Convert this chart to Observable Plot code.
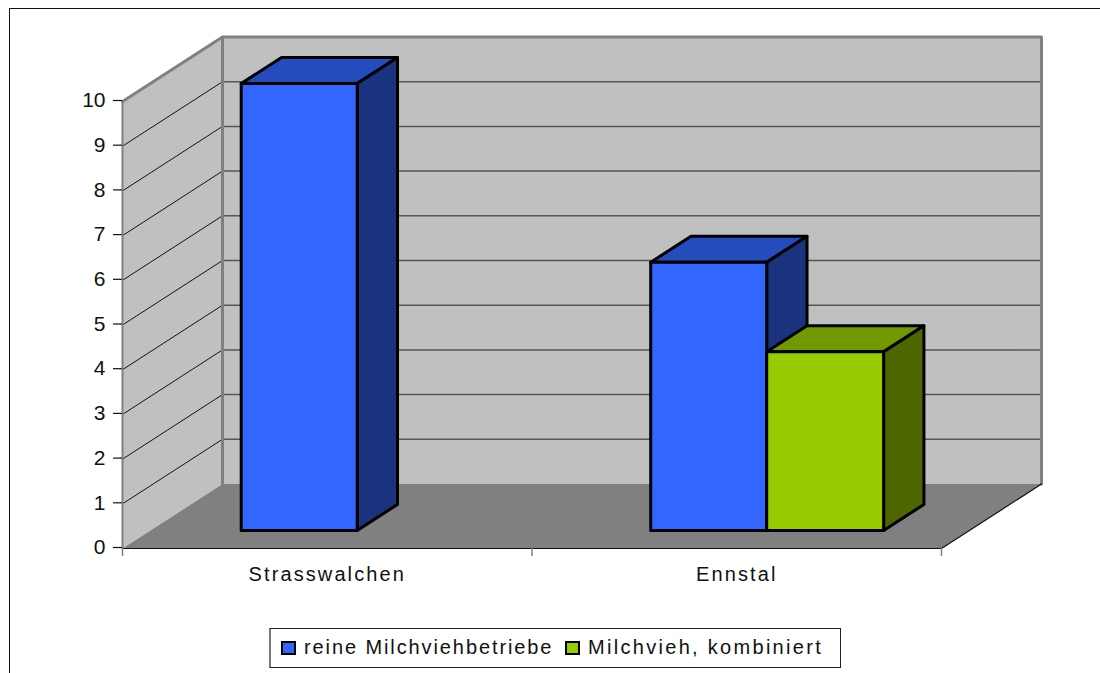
<!DOCTYPE html>
<html lang="de">
<head>
<meta charset="utf-8">
<title>Milchviehbetriebe</title>
<script src="https://cdn.jsdelivr.net/npm/d3@7"></script>
<script src="https://cdn.jsdelivr.net/npm/@observablehq/plot@0.6"></script>
<style>
  html, body { margin: 0; padding: 0; background: #fff; overflow: hidden; }
  body { width: 1100px; height: 673px; position: relative; font-family: "Liberation Sans", Arial, sans-serif; }
  #frame { position: absolute; left: 9px; top: 7.5px; right: -5px; bottom: -5px; border-top: 1.5px solid #111; border-left: 1.5px solid #111; }
  #chart { position: relative; height: 620px; }
  #chart svg { display: block; }
  #chart g[aria-label="text"] text { letter-spacing: 2.1px; }
  #legend { position: relative; box-sizing: border-box; margin: 8px 0 0 269px; width: 572px; height: 40px;
            border: 1px solid #222; border-left: 2px solid #777;
            font-size: 20px; color: #111; white-space: nowrap; }
  .swatch { box-sizing: border-box; width: 15px; height: 14px; border: 2.5px solid #000; flex: none; }
  .entry { display: flex; align-items: center; gap: 8px; position: absolute; top: 7px; }
</style>
</head>
<body>
<div id="frame"></div>
<div id="chart"></div>
<div id="legend"></div>
<script>
// Betriebe je Region und Betriebstyp
const regions = ["Strasswalchen", "Ennstal"];
const seriesNames = ["reine Milchviehbetriebe", "Milchvieh, kombiniert"];
const reine = [10, 6];
const kombiniert = [null, 4];
const yTicks = [0, 1, 2, 3, 4, 5, 6, 7, 8, 9, 10];

// Farben: Vorderseite, Deckel, Seite
const faceColors = ["#3366ff", "#99cc00"];
const topColors = ["#254cbd", "#739900"];
const sideColors = ["#1a337f", "#4d6600"];

// Schräge Projektion: eine volle Tiefeneinheit verschiebt um so viele Dateneinheiten
const depthX = 0.2442;
const depthY = 1.443;
const project = ([x, y, d]) => ({x: x + d * depthX, y: y + d * depthY});

// Lage der Säulen innerhalb der Kategorie und in der Tiefe
const barStart = 0.2215;
const barWidths = [0.2833, 0.2855];
const barDepth = [0.28, 0.683];

// Eine geschlossene Fläche als Linienzug mit Füllung
function face(corners, fill, options = {}) {
  return Plot.line(corners.map(project), {
    x: "x", y: "y", fill, curve: "linear-closed",
    stroke: options.stroke ?? "none",
    strokeWidth: options.strokeWidth ?? 0,
    strokeLinejoin: "round"
  });
}

// Ein offener Linienzug im projizierten Raum
const edge = (corners, stroke, strokeWidth) =>
  Plot.line(corners.map(project), {x: "x", y: "y", stroke, strokeWidth});

// Quader aus Deckel, Seite und Vorderseite
function bar(x0, x1, value, s) {
  const [d0, d1] = barDepth;
  const outline = {stroke: "#000", strokeWidth: 3};
  return [
    face([[x0, value, d0], [x1, value, d0], [x1, value, d1], [x0, value, d1]], topColors[s], outline),
    face([[x1, 0, d0], [x1, 0, d1], [x1, value, d1], [x1, value, d0]], sideColors[s], outline),
    face([[x0, 0, d0], [x1, 0, d0], [x1, value, d0], [x0, value, d0]], faceColors[s], outline)
  ];
}

const xMax = regions.length;
const yMax = yTicks[yTicks.length - 1];

const bars = regions.flatMap((_, i) => {
  const x0 = i + barStart;
  const x1 = x0 + barWidths[0];
  const marks = reine[i] == null ? [] : bar(x0, x1, reine[i], 0);
  return kombiniert[i] == null ? marks : marks.concat(bar(x1, x1 + barWidths[1], kombiniert[i], 1));
});

const plot = Plot.plot({
  width: 1100,
  height: 620,
  marginLeft: 122,
  marginRight: 159,
  marginTop: 101,
  marginBottom: 72,
  style: {fontFamily: '"Liberation Sans", Arial, sans-serif', fontSize: "20px", color: "#111", background: "transparent", overflow: "visible"},
  x: {type: "linear", domain: [0, xMax], axis: null},
  y: {type: "linear", domain: [0, yMax], axis: null},
  marks: [
    // Wände und Boden
    face([[0, 0, 0], [0, yMax, 0], [0, yMax, 1], [0, 0, 1]], "#c0c0c0"),
    face([[0, 0, 1], [xMax, 0, 1], [xMax, yMax, 1], [0, yMax, 1]], "#c0c0c0"),
    face([[0, 0, 0], [xMax, 0, 0], [xMax, 0, 1], [0, 0, 1]], "#808080"),

    // Gitterlinien auf Rück- und Seitenwand
    ...yTicks.slice(1, -1).flatMap((v) => [
      edge([[0, v, 0], [0, v, 1]], "#111", 1),
      edge([[0, v, 1], [xMax, v, 1]], "#555", 1.5)
    ]),

    // Wandkanten
    edge([[0, yMax, 0], [0, yMax, 1], [xMax, yMax, 1], [xMax, 0, 1]], "#808080", 3),
    edge([[0, yMax, 1], [0, 0, 1]], "#808080", 3),
    edge([[0, 0, 0], [xMax, 0, 0], [xMax, 0, 1]], "#111", 1.2),
    edge([[0, yMax, 0], [0, 0, 0]], "#808080", 2),

    ...bars,

    // Achsen
    Plot.axisY(yTicks, {anchor: "left", tickSize: 9, tickPadding: 8, dy: -1, stroke: "#111", strokeWidth: 1.2, tickFormat: (d) => d, label: null, fontSize: 21}),
    Plot.ruleX(d3.range(0, xMax + 1), {x: (d) => d, y1: 0, y2: -0.18, stroke: "#808080", strokeWidth: 1.5}),
    Plot.text(regions, {x: (_, i) => i + 0.5, y: 0, dy: 26, text: (d) => d, fontSize: 20, fill: "#111"})
  ]
});
document.getElementById("chart").append(plot);

// Legende unter dem Diagramm
const legend = document.getElementById("legend");
[[10, 0, 1.9], [294, 1, 2.3]].forEach(([left, s, spacing]) => {
  const entry = document.createElement("div");
  entry.className = "entry";
  entry.style.left = left + "px";
  const swatch = document.createElement("span");
  swatch.className = "swatch";
  swatch.style.background = faceColors[s];
  const label = document.createElement("span");
  label.style.letterSpacing = spacing + "px";
  label.textContent = seriesNames[s];
  entry.append(swatch, label);
  legend.append(entry);
});
</script>
</body>
</html>
